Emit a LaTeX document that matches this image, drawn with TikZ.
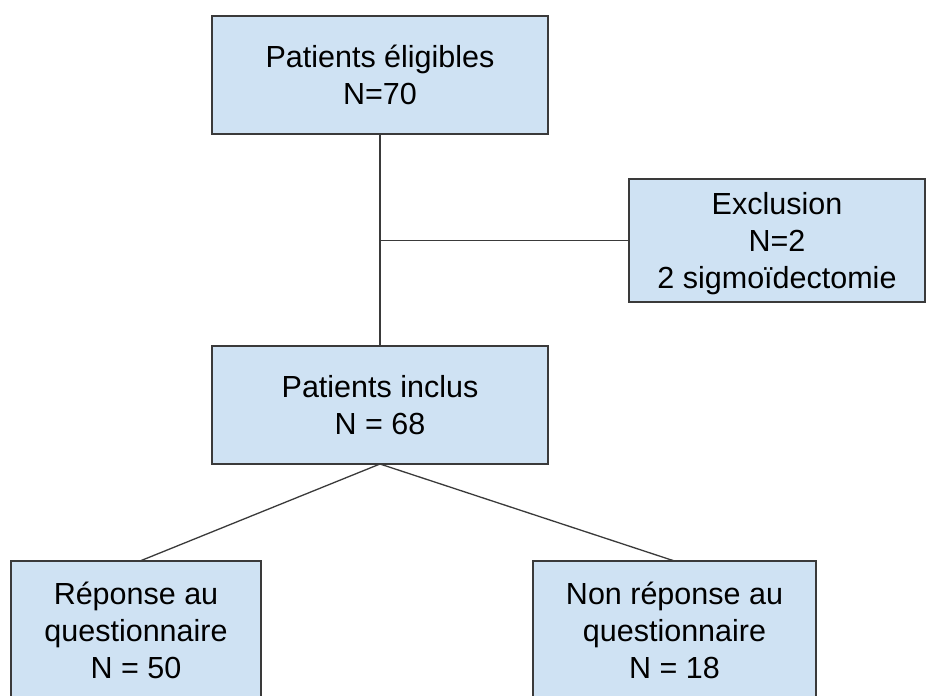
\documentclass[tikz,border=0pt]{standalone}
\usepackage{fontspec}
\setmainfont{Liberation Sans}
\definecolor{boxfill}{HTML}{CFE2F3}
\definecolor{boxline}{HTML}{3A3A3A}
\begin{document}
\begin{tikzpicture}[x=1pt,y=-1pt,
  flowbox/.style={draw=boxline, fill=boxfill, line width=1.3pt, rectangle,
    inner sep=0pt, outer sep=0pt, align=center,
    font=\fontsize{30.5}{37}\selectfont},
  link/.style={draw=boxline, line width=1.3pt}]
\clip (0,0) rectangle (927,696);
\fill[white] (0,0) rectangle (927,696);
\node[flowbox, minimum width=336, minimum height=118] (top) at (380,75) {Patients éligibles\\N=70};
\node[flowbox, minimum width=336, minimum height=118] (incl) at (380,405) {Patients inclus\\N = 68};
\node[flowbox, minimum width=296, minimum height=123, text depth=0pt] (excl) at (777,240.5) {Exclusion\\N=2\\2 sigmoïdectomie};
\node[flowbox, minimum width=250, minimum height=139] (rep) at (136,630.5) {Réponse au\\questionnaire\\N = 50};
\node[flowbox, minimum width=283, minimum height=139] (nonrep) at (674.5,630.5) {Non réponse au\\questionnaire\\N = 18};
\draw[link] (top.south) -- (incl.north);
\draw[link] (excl.west) -- (excl.west -| top.south);
\draw[link] (incl.south) -- ([xshift=4pt]rep.north);
\draw[link] (incl.south) -- (nonrep.north);
\end{tikzpicture}
\end{document}
